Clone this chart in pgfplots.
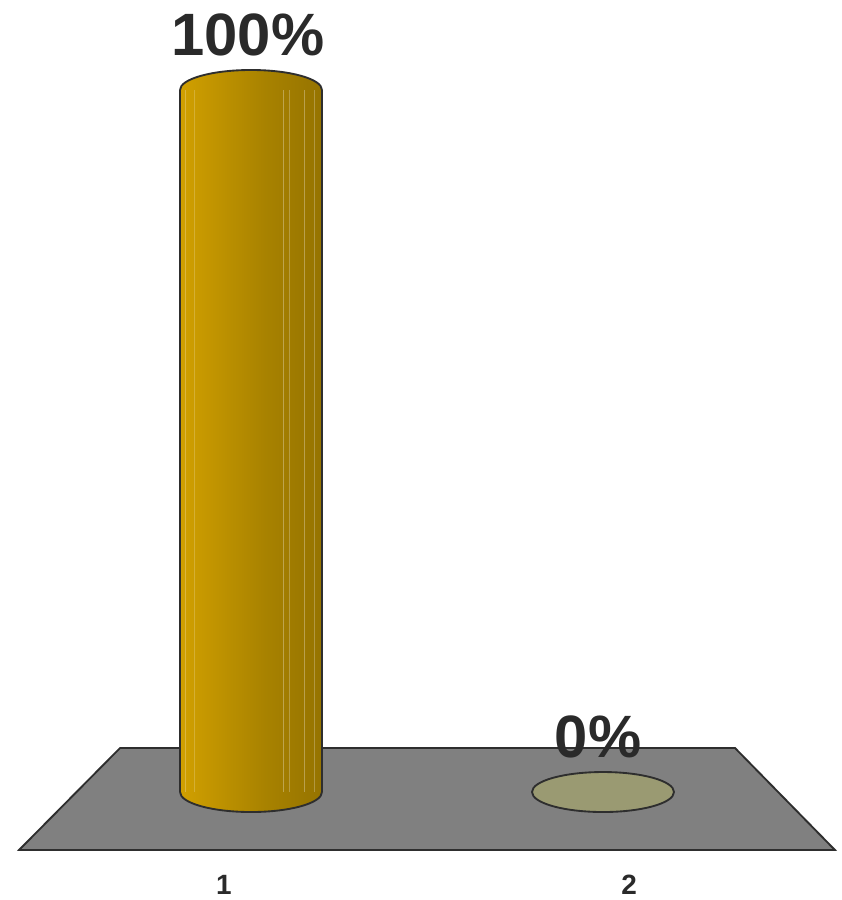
\documentclass[border=0pt]{standalone}
\usepackage{pgfplots}
\pgfplotsset{compat=1.18}
\usepackage{fontspec}
\setmainfont{Liberation Sans}
\definecolor{cA}{HTML}{C49600}
\definecolor{cB}{HTML}{D1A000}
\definecolor{cC}{HTML}{A88200}
\definecolor{cD}{HTML}{8C6C00}
\definecolor{cE}{HTML}{7A5E00}
\definecolor{edge}{HTML}{2E2E2E}
\definecolor{floor}{HTML}{808080}
\definecolor{zero}{HTML}{9A9A72}
\definecolor{txt}{HTML}{2A2A2A}
\pgfdeclarehorizontalshading{cyl}{100bp}{color(0bp)=(cA); color(15bp)=(cB); color(25bp)=(cB); color(55bp)=(cC); color(85bp)=(cD); color(100bp)=(cE)}
\pgfdeclareplotmark{cyltop}{%
  \pgfpathmoveto{\pgfpoint{-53.25bp}{0bp}}%
  \pgfpatharc{180}{0}{53.25bp and 15bp}%
  \pgfpathclose
  \pgfshadepath{cyl}{0}%
  \pgfusepath{discard}%
  \pgfpathmoveto{\pgfpoint{-53.25bp}{0bp}}%
  \pgfpatharc{180}{0}{53.25bp and 15bp}%
  \pgfusepathqstroke}
\pgfdeclareplotmark{cylbottom}{%
  \pgfpathmoveto{\pgfpoint{-53.25bp}{0bp}}%
  \pgfpatharc{180}{360}{53.25bp and 15bp}%
  \pgfpathclose
  \pgfshadepath{cyl}{0}%
  \pgfusepath{discard}%
  \pgfpathmoveto{\pgfpoint{-53.25bp}{0bp}}%
  \pgfpatharc{180}{360}{53.25bp and 15bp}%
  \pgfusepathqstroke}
\pgfdeclareplotmark{zerocap}{%
  \pgfpathellipse{\pgfpointorigin}{\pgfpoint{53.25bp}{0bp}}{\pgfpoint{0bp}{15bp}}%
  \pgfusepathqfillstroke}
\begin{document}
\begin{tikzpicture}
\begin{axis}[
  scale only axis, width=631.5bp, height=675bp,
  xmin=0.2869, xmax=2.679, ymin=-15.38, ymax=112.82,
  hide axis, clip=false,
]
\path (rel axis cs:0,0) rectangle (rel axis cs:1,1);
% floor
\addplot[fill=floor, draw=edge, line width=1.4pt] coordinates {(0.628,6.27) (2.375,6.27) (2.659,-8.26) (0.341,-8.26)} -- cycle;
% bottom half-ellipse of cylinder
\addplot[only marks, mark=cylbottom, mark options={draw=edge, line width=1.4pt}] coordinates {(1,0)};
% bar body
\addplot[ybar, bar width=0.4034, draw=none, shading=cyl, forget plot] coordinates {(1,100)};
% light streaks
\addplot[white, opacity=0.25, line width=0.5pt] coordinates {(0.8125,0) (0.8125,100)};
\addplot[white, opacity=0.2, line width=0.5pt] coordinates {(0.8395,0) (0.8395,100)};
\addplot[white, opacity=0.3, line width=0.6pt] coordinates {(1.091,0) (1.091,100)};
\addplot[white, opacity=0.25, line width=0.5pt] coordinates {(1.108,0) (1.108,100)};
\addplot[white, opacity=0.3, line width=0.6pt] coordinates {(1.151,0) (1.151,100)};
\addplot[white, opacity=0.25, line width=0.5pt] coordinates {(1.179,0) (1.179,100)};
% side outlines
\addplot[edge, line width=1.4pt] coordinates {(0.7983,0) (0.7983,100)};
\addplot[edge, line width=1.4pt] coordinates {(1.2017,0) (1.2017,100)};
% top cap
\addplot[only marks, mark=cyltop, mark options={draw=edge, line width=1.4pt}] coordinates {(1,100)};
% zero value
\addplot[only marks, mark=zerocap, mark options={fill=zero, draw=edge, line width=1.4pt}] coordinates {(2,0)};
% labels
\node[inner sep=0pt, text=txt, font=\bfseries\fontsize{45}{50}\selectfont] at (axis cs:0.991,107.9) {100\%};
\node[inner sep=0pt, text=txt, font=\bfseries\fontsize{45}{50}\selectfont] at (axis cs:1.986,7.83) {0\%};
\node[inner sep=0pt, text=txt, font=\bfseries\fontsize{21}{24}\selectfont] at (axis cs:0.923,-13.2) {1};
\node[inner sep=0pt, text=txt, font=\bfseries\fontsize{21}{24}\selectfont] at (axis cs:2.074,-13.2) {2};
\end{axis}
\end{tikzpicture}
\end{document}
